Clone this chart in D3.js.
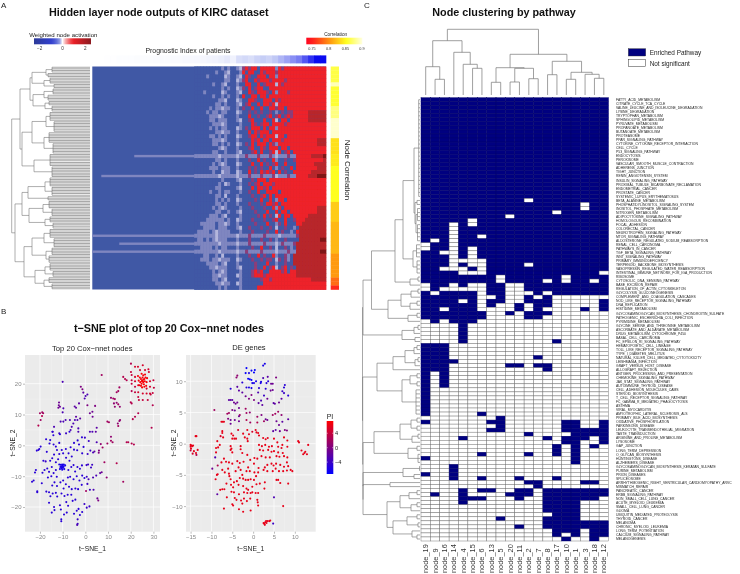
<!DOCTYPE html>
<html><head><meta charset="utf-8">
<style>html,body{margin:0;padding:0;background:#fff}svg{display:block;filter:blur(.25px)}text{font-family:"Liberation Sans",Arial,sans-serif}</style>
<script src="https://cdn.jsdelivr.net/npm/d3@7"></script></head><body><svg id="c" width="740" height="574"></svg>
<script>
// ---------- Panel A data ----------
const heatCodes = [
"bbbbbbbbblb lbblwmrmrrb rrrrrlrmrrr rrrrrrrrrrr",
"bbbbbbblbbl wbbblrbrrbb rmrrrmrrrrr rrrrrrrrrrr",
"bbbblbbbbbw lbblwbrmbbr rrbrrlrrrrr rrrrrrrrrrr",
"bbbbbbbbbbl lbbwlmrbbrm rrrmrrrrmrr rrrrrrrrrrr",
"bbbbbblbblw bbblbbrrbbr bmrrrwrmrrr rrrrrrrrrrr",
"bbbbbbbbblb lbbwlmbrbmr rbbrrrrrrrr rrrrrrrrrrr",
"bbblbbbbbwl bbblwbbrmbr rrmbrlrrrmr rrrrrrrrrrr",
"bbbbbblbblb lbblbrbbrrb rrbrrrrrrrr rrrrrrrrrrr",
"bbbbbbbbllw bbbwlbbrrmb brrrbrmrrrr rrrrrrrrrrr",
"bbbbbbbllbl bbblwbmrbbr brrmrwrrrrr rrrrrrrrrrr",
"bbbbblbllwl lbblbmbbrbb rbbrrmrrbrr rrrrrrrrrrr",
"bbbblbllbll bbbwlbbmbmb mbbmblbmbmm rrrrrdddddd",
"bbbbblllwlb bbblbbbrbbm bbmrbmrbmrm rrrrrdddddd",
"bbbbbllblll bbblwbbmrbb brbbrwbrrbr rrrrrdddddd",
"bbbbbblllwl bbbblbbbrmb mrrbrrrrmrr rrrrrrrrrrr",
"bbbbblblbll bbbwlbmbrrr brbrrlrrrrr rrrrrrrrrrr",
"bbbbbbbllwl lbblbbbrbrm rrrbrrrrrrr rrrrrrrrrrr",
"bbbbbllblbl bbbwlbbmrrb rmrrrwrrbrr rrrrrrrrrrr",
"bbbbbblllwl bbblbbbbrmr brrbrrrmrrr rrrrrrrrddd",
"bbbbbbllblb lbbwlbmbrbr rrbrmlrrrrr rrrrrrrrddd",
"bbbbbbbblwl bbblbbbmrbb rmbrrrbrrbr rrrrrrrrrrr",
"bbbbbbllbbl bbblwbbbmrb rbbmrwrbmrb rrrrrrrrrrr",
"llllllllwll lllwllmlllm lllmlwlllml lrrrrrddddk",
"bbbbbbbllbl bbblbbbmbbr bmbbrlbbmbb mrrrrrrrrrd",
"bbbbbblblwl bbbwlbbbrbb rbmbmrbbrbb brrrrrrdddd",
"bbbbblllbll lbblbbbmbmb mbbrblbmbbr brrrrrrrddd",
"bbbbbblbbwl lbbwlbbrbmb rmrmrbrbmbb rrrrrrddddd",
"llllllllwll lllwlllmlll mlllmwlllml lrrrrdddkkk",
"bbbbbbbbblb bbblwbbbmbr rrbrrrrrrrr rrrrrrrrrrr",
"bbbbbbbblbw lbbblbbmbmr brrrmrrrrrr rrrrrrrrrrr",
"bbbbbbbllbb bbblwbbbrbr rmrbrrrrrrr rrrrrrrrrrr",
"bbbbblbblbl lbbblbbmbbr bbrrrrbrrrr rrrrrrrrrrr",
"bbbbbbbllbw bbblbbbbmbb mrbrbrrrrrr rrrrrrrrrrr",
"bbbbbbblblb lbbwlbbbbmb rbbrblrrbrr rrrrrrrrrrr",
"bbbbbbbllbl bbblbbbmbbb mbrrmrbrrrr rrrrrrrrrrr",
"bbbbbblblwl bbbblbbbmbb bmbbrlrbrrr rrrrrrrrddd",
"bbbbbbbllbb lbblwbbbbmb bbrbbrbrrbr rrrrrrrrddd",
"bbbbblllblw bbbblbbbbbm brbmbwrbrrb rrrrrdddddd",
"bbbbllllllb lbbwlbbbmbb bmbbmrbbrbb mrrrddddddd",
"bblllllbllw lbblbbbbbmb bbrbblmbrbb brrdddddddd",
"bbbllllblll bbblwbbmbbb mbbmbwbbmbb lbddddddddd",
"bllllblwlll lbbblbbbmbb bbmbbrbmbbl brddddddddd",
"lllllllwlll lllwlllmlll lmllllwllll lmddddddddd",
"bllblblwlll bbblbbbmbbb mbbmblbbmbb bbdddddddkk",
"llllllllwll lllwlllmlll lmlllwlmlll mdddddddddd",
"bbllllblbll bbblbbbbmbb rbbmbwbbmbl bdddddddddd",
"llllllllwll lllwllmllll mllllwlllml lddddddddkk",
"bbbllbblbwb bbblbbbmbbr bmbbrlbbmlb dddddddddddd",
"bblllbllwll lbbwlbbbmbb mbmmbwmbmlb ddddddddddd",
"bbbbllllblw bbblbbbbbmb bbrbblbbmbb dddddddddddd",
"bbbbbllwlll bbblwbbbbmb brbmrwbmrbm bdddddddddd",
"bbbbbblblwl bbbblbbbmrm rbbrrrrmrbr rdddddddddd",
"bbbbbbllwll bbbwlbbbmrr rmrrrrrrrrr rdddddddddd",
"bbbbbbllblw bbbblbbbbbb mrrmrrrrrrr rrrrrrddddd",
"bbbbbbbllwl lbbwlbbbbbb brrrrrrrrrr rrrrrrrrrrr",
"bbbbbbbblbl bbbblbbbbbr rrrrrrrrrrr rrrrrrrrrrr"];
const heatLeftCols = 34;
const leftStreakRows = [22,27,42,44,46];
const leftStreakStart = [14,3,0,9,0];
const piBarValues = [0,0,.01,.01,.02,.02,.02,.03,.03,.03,.04,.04,.04,.05,.05,.06,.06,.07,.08,.1,.12,.15,.2,.12,.3,.35,.3,.4,.45,.4,.5,.55,.6,.65,.7,.8,.9,1,1];
const corrBySeg = [.86,.86,.86,.86,.89,.855,.855,.855,.855,.855,.875,.875,.875,.895,.895,.895,.895,.895,.835,.835,.835,.835,.84,.84,.84,.85,.85,.85,.85,.85,.85,.85,.85,.85,.825,.825,.825,.825,.825,.815,.815,.815,.815,.815,.815,.815,.815,.8,.8,.8,.8,.8,.8,.78,.78,.75];
const heatActivationDomain = [-2.5,-.9,-.3,0,.3,.9,2.5];
const heatActivationRange = ["#2c3a98","#3340d0","#7a88dd","#ffffff","#f5a0a0","#ee2027","#8a1a20"];
const corrDomain = [.75,.8,.85,.9];
const corrRange = ["#ff2a1c","#ff9a10","#ffff20","#ffffe0"];
const dendroA = [78.3,
 [70,
  [60,[58,[44,[38,4],[42,3]],[46,[40,4],[36,3]]],[57,[46,[37,4],[42,4]],[45,[41,3],[38,4]]]],
  [68,[58,[44,[40,6],[36,7]],[46,[41,7],[37,7]]],[56,[40,8],[38,7]]]],
 [75,
  [68,[62,[45,[40,6],[38,6]],[42,3]],[61,[47,[41,5],[38,5]],[45,[40,4],[37,4]]]],
  [66,[58,[46,[40,6],[36,6]],[44,[38,5],[41,5]]],[55,[45,[40,5],[37,4]],[46,[41,4],[38,4]]]]]];

// ---------- Panel B data: [tSNE_1, tSNE_2, PI] ----------
const leftPoints = [
[25,21,7],[25.5,20.5,7],[24.5,21.5,7],[26,21.5,7],[24.8,20,7],[25.8,19.8,7],[26.2,20.8,7],[24.2,20.5,7],[25.2,22,7],[24,22,7],[26.5,22,7],[25.5,22.7,7],[24.5,19.3,7],[26,19,7],[23.5,21,7],[27,20.5,7],[25,18.8,7],[26.8,19.3,7],[23.8,19.5,7],[27.2,21.8,7],[24.8,23.2,7],[26.3,23,7],[23.2,22.5,7],[25,20.8,7],[25.6,21.3,7],
[20.1,23.8,4],[21.9,25.5,5],[23.2,25.5,5],[25.3,26,5],[27.8,24.7,5],[28,23.8,5],[26.3,24.4,5],[24.1,24.4,5],[20.4,22.8,4],[21.9,22.2,5],[20.4,21.1,4],[21.9,20.8,5],[20.4,20,4],[21.9,19,4],[23.3,19.5,6],[30,21.1,4],[28.5,20.8,5],[27,18.4,5],[28.5,19,5],[30.2,18.7,4],[23.3,17.2,5],[25.3,16.8,5],[27,16.8,5],[28.5,16.8,5],[29.7,17,4],[28.8,16.5,4],[23.6,14.7,4],[25.3,14.7,4],[27.5,14.7,4],[20.4,17.6,3],[21.9,17.2,4],[23.3,15.7,4],[20.1,26.5,3],[7.2,22.8,2],
[-20,10.4,2],[-19,10.7,2],[-18.6,10.4,2],[-19.1,9.5,3],[-19.7,8.2,2],[-20.7,6.4,3],
[-10,20.6,-3],[-2,19,0],[-1.3,18.2,0],[-.9,17.1,-2],[.9,16.5,-3],[.1,16,-3],[-.3,15.2,-3],[.9,13,0],[4.3,12.8,0],[-11.6,13.9,-1],[-11.7,13,-1],[-11.2,12.5,-1],[-11.9,12.2,-1],[-9.7,12,-3],[-10,10.7,-3],[-4.7,12.6,-2],[-4.1,12.2,-2],[-2.8,13.6,-2],[2,10.4,-1],[3.1,10.9,-1],[3.2,9.3,-1],[-4.1,9.3,-2],[-2.3,8.7,-2],[-3.5,8.2,-3],[-4.6,8.2,-3],[-5.3,7.1,-3],[-10.9,7.7,-3],[-9.7,7.7,-3],[-8.7,8.2,-3],[-6.8,8.2,-3],[-13.8,6,-3],[-14.4,4.4,-3],[-11.5,3.9,-4],[-8.5,3.9,-4],[-6.5,5,-3],[-6,6,-3],[-3.1,5.5,-3],[-3.1,4.4,-3],[2,4.4,-3],[3.1,4.4,-3],[5,5.7,-2],[4.6,4.4,-2],
[15,18.8,2],[14.5,17.6,2],[13.8,17.2,2],[12.3,15.2,2],[11.3,15.4,1],[13,15,2],[12.6,13.6,1],[13.8,13.8,1],[14.5,13.3,2],[13,12.5,1],[15.2,12.5,1],[9.7,7.7,2],[10.4,7.5,2],[15,7.9,1],[15.3,8.2,1],[14.3,7.1,1],[14.5,6.3,2],[20,14,3],[20.4,13.6,3],[20.9,8.5,3],[21.9,9.3,3],[23.3,10.4,3],[16.7,22.2,3],[17.5,21.5,3],[18.2,21.1,3],[29.2,5.7,3],[29.7,13,3],
[6.8,.4,1],[7.6,-.7,2],[9.7,.6,2],[11.3,2.8,1],[11.3,1.5,2],[12,1,2],[18.2,1,3],[18.9,1,3],[20.4,.6,3],[21.4,.3,3],[8.4,-5.5,2],[13.8,-5.8,3],[16.7,-11.8,2],[.3,-14.8,2],[5.3,-17.2,-1],[5.7,-17.9,0],[6.5,-9,-2],[7.2,-8.7,-1],[9.4,-10.4,1],[4,-2,-2],[6,-1.7,0],[5.9,-2.4,0],
[-10.3,-7,-6],[-10,-6.6,-6],[-10.6,-6.8,-6],[-9.9,-7.3,-6],[-10.5,-7.4,-6],[-11,-7,-6],[-9.6,-6.9,-6],[-10.2,-6.2,-6],[-10.8,-6.3,-6],[-9.5,-6.2,-6],[-10.2,-7.9,-6],[-11.2,-7.7,-6],[-9.3,-7.7,-6],[-11.5,-6.2,-6],[-8.9,-6.5,-6],
[-23.5,-11.8,-5],[-22.8,-11.4,-5],[-22.2,-8.8,-5],[-21.8,-8,-5],[-21.2,-14.9,-5],[-21.2,-15.2,-5],[-18.9,-8.9,-5],[-19.2,-12.3,-5],[-21.4,-1.7,-5],[-20.7,-1.5,-5],[-19.7,-.4,-5],[-20.3,-1.2,-5],[-17.3,2,-5],[-17,-2.1,-5],[-15.8,.6,-5],[-15.5,1.7,-5],[-14.1,3.3,-5],[-14.5,4.4,-5],[-11.2,3.6,-5],[-7,4.4,-5],
[-18.5,-5,-5],[-17.5,-5.2,-4],[-16.8,-7.5,-5],[-18,-8,-5],[-16,-8.6,-5],[-15.5,-5,-5],[-14.6,-4.2,-5],[-13.8,-3,-5],[-13,-5.5,-5],[-14.8,-7,-5],[-15,-10,-5],[-16.5,-10.4,-5],[-14,-9,-5],[-13,-8,-5],[-12.6,-10.2,-5],[-12,-4.5,-5],[-11.5,-2.8,-5],[-12.5,-1.5,-5],[-14,.3,-5],[-13,-.4,-5],[-11.5,.8,-5],[-10.4,-1.5,-5],[-9.8,-2.6,-5],[-8.6,-1.2,-5],[-8.5,-4,-5],[-7.4,-2.6,-5],[-7,-5,-5],[-6,-3.6,-5],[-6.5,-.6,-5],[-5,-1.4,-5],[-5,.8,-5],[-3.6,-1.6,-5],[-3.4,1.6,-5],[-2.8,.3,-5],[-1.4,-2.6,-5],[-.8,-.5,-5],[-.2,2.5,-4],[-1.5,2.6,-5],[1,-2.8,-4],[1.5,1.4,-4],[2.2,-1.7,-4],[3.4,-2.3,-3],[5,1,-3],
[-7.5,-8,-5],[-6.2,-7,-5],[-5.2,-6.4,-5],[-4.5,-8.5,-5],[-3.5,-7,-5],[-2.4,-7.6,-5],[-1.5,-6.5,-5],[.5,-6.4,-4],[1.2,-6.2,-4],[2.5,-7.2,-4],[3,-6.3,-4],[-7.7,-10.4,-5],[-6.7,-10.2,-5],[-5.2,-11,-5],[-3.8,-10,-5],[-2.6,-11.4,-5],[-1.4,-9.8,-5],[-.4,-10.6,-5],[.6,-10.2,-4],[1.4,-11,-3],[3.4,-10.4,-3],[4.8,-9.8,-3],[-11,-12,-5],[-9.8,-11.4,-5],[-8.6,-12.6,-5],[-12.5,-13.2,-5],[-13.6,-12,-5],[-14.6,-13,-5],[-9.6,-14,-5],[-7.2,-13.4,-5],[-6,-14.2,-5],[-4.4,-14,-5],[-3.2,-14.2,-5],[-1.6,-12.8,-5],[.9,-12.5,-4],[2,-14.4,-4],[3.6,-14.4,-3],
[-17.2,-15,-5],[-16,-15.2,-5],[-15.4,-16.5,-5],[-14.4,-15.6,-5],[-13,-15.4,-5],[-12.4,-16.6,-5],[-10.5,-15.6,-5],[-9.2,-16.4,-5],[-7.8,-16,-5],[-6.2,-16,-5],[-5.6,-18,-5],[-4.4,-17.6,-5],[-8.4,-18.4,-5],[-7.6,-19.6,-5],[-16,-18.6,-5],[-13.8,-20,-5],[-11.2,-19.4,-5],[-10.8,-20.8,-5],[-14.8,-21.8,-5],[-13.6,-21,-5],[-9.4,-22.4,-5],[-8.2,-21.8,-5],[-3.8,-21.2,-5],[-3,-20.6,-5],[-1.4,-21.6,-5],[-.4,-19,-4],[.6,-20.2,-4],[1.8,-19.8,-4],[-5,-22.2,-5],[-2.4,-22.6,-5],[-10.6,-24,-5],[-10.6,-24.6,-5],[-3.4,-24,-4],[-3.4,-25.4,-4],[-3.6,-25.8,-3]];
const rightPoints = [
[-1.6,12.1,-7],[-.4,11.7,-7],[.4,11.8,-7],[.2,11.4,-7],[-1.8,11.3,-7],[-1,11.3,-6],[2.4,12.5,-6],[2.8,12.8,-6],[-1.2,10.4,-7],[-.8,10.3,-7],[-.4,10.2,-7],[.7,10,-6],[-.2,9.7,-6],[.2,9.7,-6],[1.9,9.9,-6],[1.8,9.7,-6],[3.2,9.7,-5],[3.6,10,-5],[2.4,10.5,-3],[3.5,10.7,-2],[5.5,10.6,0],[4.3,9.6,-1],[4.7,9.6,-1],[-3.8,10.9,1],[-4,10.6,1],[-2.6,9.8,-5],[-5.4,8.8,-5],[-3.8,9.1,-2],[-1.6,9,-5],[-1,9,-6],[-.4,8.9,-6],[1.4,8.9,-5],[3,8.8,-5],[4.2,8.5,-1],[4.7,8.6,-1],[7.6,9.4,-5],[7.4,9,-5],[7,8.4,-4],[7.4,8.1,-4],[8.4,7.7,-5],[2.6,7.7,-4],[1.2,8.2,-3],[-3.4,8.5,-2],[-2.6,8.2,-2],
[-5.8,7,-2],[-5.4,7,-2],[-5,7,-2],[-4.6,6.6,-1],[-4.2,6.4,-1],[-3.4,5.7,-1],[-3.8,6.6,-1],[-1.8,7.6,-1],[-1,7.2,0],[-.4,7.8,0],[.2,7,0],[1.3,6.5,-2],[1.9,6.9,-3],[2.2,6.2,-2],[3.4,7.2,-1],[4.9,6.5,-2],[5.2,6.4,-2],[6.2,6.6,-1],[6.8,7.2,-2],[-9.3,5.4,2],[-6.2,4.8,2],[-5.8,4.9,2],[-5,5.4,0],[-4.4,5.3,-1],[-3.2,4.6,2],[-1.8,5.6,2],[-1.6,4.9,2],[-.8,5,1],[1,4.3,2],[2,4.6,0],[4.7,4.6,2],[5.3,4.8,2],[6,5.1,2],[6.8,4.6,1],
[-6,4,0],[-5.4,3.8,-1],[-5.4,3.2,-1],[-4.4,3.8,-1],[-3.4,4.4,-1],[-3.4,3.6,-1],[-1.6,3.8,3],[-.7,3.4,2],[1,3.4,3],[2.6,3.6,2],[3,3.9,-1],[3.4,3.8,-1],[5.6,3.6,-1],[6.2,3,-1],[7,3.5,-2],[8.4,3.9,-2],[-7.6,3.5,6],[-7.3,3.5,6],[-7,3.5,6],
[-7.4,2,6],[-7.4,1.7,6],[-7.8,1.2,5],[-5.2,1.6,6],[-4.8,1.3,6],[-3.6,2.2,5],[-2.4,1.6,6],[-1.4,2.2,6],[-1,1.5,6],[-.2,1.9,5],[.6,2.2,6],[.8,1.8,6],[1.2,1.7,6],[1.4,1.3,6],[4.8,2,-2],[5.4,2.2,-2],[6.4,2,-1],[7.6,2.2,0],[8.1,2.1,0],
[-8.6,.4,6],[-8,-.2,6],[-7.2,1,6],[-5,.8,6],[-4.5,.8,6],[-4.1,.8,6],[-2,1,6],[-1.4,.8,6],[-1.3,.4,6],[2.4,.9,6],[3,.7,6],[3.5,.9,6],[5,.8,6],[5.8,.2,6],[7,-.2,6],[7.4,1,6],[8.2,.5,6],[-8.9,-.7,6],[-8.4,-.6,6],[-5.4,-.4,6],[-5.2,-.8,6],[-3,-.4,6],[1.4,-.2,6],[2.1,-.4,6],[2.9,-.2,6],[3.8,-.5,6],[4.5,-.4,6],[6,-.5,6],[6.8,-.7,6],[8.2,-.5,6],
[-8.9,-1.4,6],[-9.1,-2.2,-3],[-5.4,-1,6],[-5,-1.4,6],[-3,-.9,6],[-2.6,-1.5,6],[1.6,-1,6],[2.4,-1.1,6],[3.6,-1,6],[4.4,-1.3,6],[5,-1.2,6],[6,-1.4,6],[7.1,-1.5,6],[-1.4,-1.8,6],[.3,-2.3,6],[2,-2,6],[3,-2.2,6],[4,-2.2,6],[5.6,-2,6],[6.3,-2.1,6],[7.4,-2,6],[8.2,-2.2,6],[8.1,-3,6],
[-9.8,-4,-1],[-8.5,-3.5,3],[-7.6,-3,6],[-7,-2.4,6],[-6.5,-2.9,6],[-5.8,-3,6],[-5,-3.2,6],[-3.8,-2.8,6],[-3.2,-3.1,6],[-2.3,-2.9,6],[-.7,-2.6,6],[.2,-3.2,6],[1,-2.4,6],[1.3,-3.9,6],[2.8,-3.8,6],[3.4,-3.4,6],[4.4,-3.2,6],[4.9,-3.5,6],[5.5,-3.2,6],[6.5,-3.4,6],[7.4,-3.7,6],[8.4,-3.6,6],
[-9,-5.7,6],[-8.7,-5,6],[-8.5,-4.9,6],[-7.4,-4.2,6],[-6.8,-4.6,6],[-6,-4,6],[-5.8,-4.8,6],[-5.7,-5.2,6],[-5.4,-5.7,6],[-4.2,-4.4,6],[-3.5,-3.8,6],[-3,-4.2,6],[-2.6,-5,6],[-1.2,-3.8,6],[-1.6,-4.4,6],[-.8,-4.4,6],[.3,-4.6,6],[1.2,-4.6,6],[2.5,-4.2,6],[3.4,-4.4,6],[4.7,-4.4,6],[5.4,-4,6],[6.2,-4.4,6],[7.2,-4.4,6],[8.1,-4.3,6],[9,-4.2,6],[9.4,-4.4,6],
[-4.6,-6.2,6],[-3.9,-6,6],[-3.2,-5.5,6],[-2.4,-5.6,6],[-1.8,-5.8,6],[-1.2,-5.8,6],[-.6,-5.7,6],[.2,-5.8,6],[.7,-5.2,6],[2.8,-6.2,6],[5.6,-5.8,6],[6,-5.8,6],[6.5,-6.3,6],[8.4,-6.4,6],
[-6.4,-6.4,6],[-5.3,-6.6,6],[-4.8,-7,6],[-3.5,-6.6,6],[-2.4,-6.8,6],[-1.6,-7.2,6],[-1.2,-7.4,6],[-.2,-6.9,6],[.8,-6.5,6],[1.6,-6.4,6],[2.7,-7.2,6],[-7.9,-7.4,6],[-7.4,-7.3,6],[-6.9,-7.3,6],[-5.2,-7.7,6],[-4.6,-7.8,6],[-3.4,-8.1,6],[-2.2,-7.8,6],[-1.4,-7.9,6],[-.6,-7.9,6],[-.2,-7.8,6],[.6,-7.9,6],[1.2,-7.9,6],[-8.6,-8.1,-2],[-6.3,-8.6,6],[-4.4,-8.7,6],[-4,-9,6],[-2.9,-9.1,6],[-2.2,-8.8,6],[-1.5,-9.2,6],[-.7,-8.8,6],[1,-9,6],[1.1,-9.4,6],[5,-8.6,-3],[-5,-9.7,6],[-4.8,-9.9,6],[-2.6,-9.6,6],[7.2,-10,6],[1.2,-9.9,6],[-7,-10.4,6],[-3.4,-10.5,6],[-2.4,-10.9,6],[-.6,-10.7,6],
[2.6,-12.8,6],[2.8,-13,6],[2.9,-12.6,6],[3.1,-12.4,6],[3.5,-12.4,6],[3.9,-12.4,6],[4.1,-12.3,6],[2.5,-12.7,6],[3.2,-12.7,6],[4.8,-12.8,-4],
[-15,-.2,6],[-15,-.5,6],[-14.9,-.8,6],[-14.8,-.3,6],[-14.6,-.4,6],[-14.4,-.3,6],[-15,-1.1,4],[-14.5,-1.6,5],[-14.2,-1.2,6],[-13.7,-1.5,6],[-13.6,-1.8,3],[-13.3,-1,6],[-13.8,1.2,6],[-13.6,1.2,6],
[10.8,.4,6],[11,.2,6],[11.6,-1.1,6],[12,-1.7,6],[12.5,-1.3,6],[12.9,-1.7,6],[13.2,-.2,6],[12.3,-1.5,6]];
const xTicksL=[-20,-10,0,10,20,30], yTicksL=[-20,-10,0,10,20];
const xTicksR=[-15,-10,-5,0,5,10], yTicksR=[-10,-5,0,5,10];
const legendPITicks=[4,0,-4];

// ---------- Panel C data ----------
const pathways = ["FATTY_ACID_METABOLISM","CITRATE_CYCLE_TCA_CYCLE","VALINE_LEUCINE_AND_ISOLEUCINE_DEGRADATION","LYSINE_DEGRADATION","TRYPTOPHAN_METABOLISM","SPHINGOLIPID_METABOLISM","PYRUVATE_METABOLISM","PROPANOATE_METABOLISM","BUTANOATE_METABOLISM","PROTEASOME","PPAR_SIGNALING_PATHWAY","CYTOKINE_CYTOKINE_RECEPTOR_INTERACTION","CELL_CYCLE","P53_SIGNALING_PATHWAY","ENDOCYTOSIS","PEROXISOME","VASCULAR_SMOOTH_MUSCLE_CONTRACTION","ADHERENS_JUNCTION","TIGHT_JUNCTION","RENIN_ANGIOTENSIN_SYSTEM","INSULIN_SIGNALING_PATHWAY","PROXIMAL_TUBULE_BICARBONATE_RECLAMATION","ENDOMETRIAL_CANCER","PROSTATE_CANCER","SYSTEMIC_LUPUS_ERYTHEMATOSUS","BETA_ALANINE_METABOLISM","PHOSPHATIDYLINOSITOL_SIGNALING_SYSTEM","INOSITOL_PHOSPHATE_METABOLISM","NITROGEN_METABOLISM","ADIPOCYTOKINE_SIGNALING_PATHWAY","HOMOLOGOUS_RECOMBINATION","FOCAL_ADHESION","COLORECTAL_CANCER","NEUROTROPHIN_SIGNALING_PATHWAY","MTOR_SIGNALING_PATHWAY","ALDOSTERONE_REGULATED_SODIUM_REABSORPTION","RENAL_CELL_CARCINOMA","PATHWAYS_IN_CANCER","TGF_BETA_SIGNALING_PATHWAY","WNT_SIGNALING_PATHWAY","PRIMARY_IMMUNODEFICIENCY","TERPENOID_BACKBONE_BIOSYNTHESIS","VASOPRESSIN_REGULATED_WATER_REABSORPTION","INTESTINAL_IMMUNE_NETWORK_FOR_IGA_PRODUCTION","RIBOSOME","CYTOSOLIC_DNA_SENSING_PATHWAY","BASE_EXCISION_REPAIR","REGULATION_OF_ACTIN_CYTOSKELETON","GLYCOLYSIS_GLUCONEOGENESIS","COMPLEMENT_AND_COAGULATION_CASCADES","NOD_LIKE_RECEPTOR_SIGNALING_PATHWAY","DNA_REPLICATION","HISTIDINE_METABOLISM","GLYCOSAMINOGLYCAN_BIOSYNTHESIS_CHONDROITIN_SULFATE","PATHOGENIC_ESCHERICHIA_COLI_INFECTION","PYRIMIDINE_METABOLISM","GLYCINE_SERINE_AND_THREONINE_METABOLISM","ASCORBATE_AND_ALDARATE_METABOLISM","DRUG_METABOLISM_CYTOCHROME_P450","BASAL_CELL_CARCINOMA","FC_EPSILON_RI_SIGNALING_PATHWAY","HEMATOPOIETIC_CELL_LINEAGE","TOLL_LIKE_RECEPTOR_SIGNALING_PATHWAY","TYPE_I_DIABETES_MELLITUS","NATURAL_KILLER_CELL_MEDIATED_CYTOTOXICITY","LEISHMANIA_INFECTION","GRAFT_VERSUS_HOST_DISEASE","ALLOGRAFT_REJECTION","ANTIGEN_PROCESSING_AND_PRESENTATION","CHEMOKINE_SIGNALING_PATHWAY","JAK_STAT_SIGNALING_PATHWAY","AUTOIMMUNE_THYROID_DISEASE","CELL_ADHESION_MOLECULES_CAMS","STEROID_BIOSYNTHESIS","T_CELL_RECEPTOR_SIGNALING_PATHWAY","FC_GAMMA_R_MEDIATED_PHAGOCYTOSIS","ASTHMA","VIRAL_MYOCARDITIS","AMYOTROPHIC_LATERAL_SCLEROSIS_ALS","PRIMARY_BILE_ACID_BIOSYNTHESIS","OXIDATIVE_PHOSPHORYLATION","PARKINSONS_DISEASE","LEUKOCYTE_TRANSENDOTHELIAL_MIGRATION","TASTE_TRANSDUCTION","ARGININE_AND_PROLINE_METABOLISM","LYSOSOME","GAP_JUNCTION","LONG_TERM_DEPRESSION","O_GLYCAN_BIOSYNTHESIS","HUNTINGTONS_DISEASE","ALZHEIMERS_DISEASE","GLYCOSAMINOGLYCAN_BIOSYNTHESIS_KERATAN_SULFATE","PURINE_METABOLISM","PRION_DISEASES","SPLICEOSOME","ARRHYTHMOGENIC_RIGHT_VENTRICULAR_CARDIOMYOPATHY_ARVC","MISMATCH_REPAIR","PANCREATIC_CANCER","ERBB_SIGNALING_PATHWAY","NON_SMALL_CELL_LUNG_CANCER","ACUTE_MYELOID_LEUKEMIA","SMALL_CELL_LUNG_CANCER","GLIOMA","UBIQUITIN_MEDIATED_PROTEOLYSIS","THYROID_CANCER","MELANOMA","CHRONIC_MYELOID_LEUKEMIA","LONG_TERM_POTENTIATION","CALCIUM_SIGNALING_PATHWAY","MELANOGENESIS"];
const nodes = ["node_19","node_9","node_16","node_14","node_4","node_15","node_6","node_13","node_5","node_20","node_11","node_2","node_7","node_8","node_17","node_10","node_1","node_3","node_18","node_12"];
const allOn = "11111 11111 11111 11111";
const enriched = [allOn,allOn,allOn,allOn,allOn,allOn,allOn,allOn,allOn,allOn,allOn,allOn,allOn,allOn,allOn,allOn,allOn,allOn,allOn,allOn,allOn,allOn,allOn,allOn,allOn,
"11111 11111 10111 11111","11111 11111 11111 11011","11111 11111 11111 11011","11111 11111 11110 11111","11111 11110 11111 11111",
"11111 01111 11111 11111","11101 01111 11111 11111","11101 11111 11111 11111","11101 11111 11111 11111","11101 10111 11111 11111",
"10101 11111 11111 11111","01101 11111 11111 11111","01101 01111 11111 11111","11001 01111 11111 11111","11101 01111 11111 11111",
"11100 00111 11111 11111","11101 00111 10111 11111","11000 10111 11111 11111","11110 00111 11111 11110","11111 11101 11111 01111",
"11111 11101 11101 01101","01101 00110 01111 11111","01000 00110 01111 11111","10111 10110 00101 11111","11111 10010 01010 00000",
"11110 10110 01110 00001","11111 10100 10110 00001","11011 10000 10100 00101","11111 11001 01110 00000","11111 11000 01100 00000",
"01011 10000 00000 00000","00001 00000 00000 00000","00001 00000 00000 00000","00001 00000 00000 00000","00001 00000 00000 00000",
"00001 00000 00001 00000","11100 00000 00000 00000","11100 00000 00000 00000","11100 00000 00000 00000","11100 00000 00100 00000",
"11110 00000 00000 00000","11100 00001 10110 00000","11100 00000 00010 00000","10100 00000 00000 00000","10100 00000 00000 00000",
"10100 00000 00000 00000","10100 00000 00000 00000","10000 00000 00000 00000","10000 00000 00000 00000","10000 00000 00000 00000",
"10000 00000 00000 00000","10000 00000 00000 00000","10000 00000 00000 00000","10000 01000 00000 00000","00000 00010 00000 00000",
"10000 00110 00000 11001","00000 00010 00000 11001","00000 00110 00000 11111","00000 00000 01000 01111","00001 00000 00010 11101",
"00000 00000 00000 11001","00000 00000 00001 01010","00000 00000 00001 01000","00000 01000 01001 01000","10000 00000 00000 01000",
"00000 00000 00000 01000","00010 00000 00000 00000","00010 00000 00000 00000","10010 00000 00000 00000","00010 01000 10001 00000",
"00000 00000 01100 00110","00000 00000 00100 00000","00001 01100 11011 11111","01001 00001 11011 11111","00001 11000 10011 11110",
"00001 00000 00011 11000","00000 00000 00011 11000","00000 00000 00011 11000","00000 00000 00001 11000","00000 00010 00011 11000",
"00000 00000 00011 11111","00000 00000 10011 11111","00000 00000 00001 11011","00000 00000 00001 01011","00000 00000 00000 10010"];
const L=[0,1];
const dendroCols = [65.7,
 [54.3,[28.3,L,[15.7,L,L]],[42.7,L,[30.7,L,[26.7,L,L]]]],
 [40.7,
  [27.3,[12.7,L,L],[26.7,[13,L,L],[16.3,L,L]]],
  [33.7,[20.3,L,L],[22.7,[15.7,L,L],[20.7,L,[16.7,L,L]]]]]];
const dendroRows = [57.5,
 [57,
  [48.5,
   [25,
    [17,[6,[1.3,25],[5,[3,2],[4,[2.5,4],[2.5,5]]]],[7,[3.5,4],[3,4]]],
    [10,[2,2],L]],
   [32,[19,[9,[2,2],L],[10,[3,2],L]],[12,[3,2],L]]],
  [18,[6,[2,2],L],[5,L,L]]],
 [57.3,
  [43,[27,[15,[6,[3,2],L],[5,[2,2],L]],L],[18,[10,[3,2],[3,2]],[4,7]]],
  [57,
   [46,[20,[9,[3,2],[3,2]],[8,[2,2],L]],[12,[3,2],[2,3]]],
   [57,[17,[.5,2],[6,L,L]],
    [57,[30,L,L],[33,[20,[11,[3,2],L],[9,[3,2],L]],[27,[13,[3,2],[2,2]],[8,L,[3,2]]]]]]]]];

// ---------- Drawing ----------
const svg = d3.select("#c");
const defs = svg.append("defs");
defs.append("filter").attr("id","soft").attr("x","0").attr("y","0").attr("width","100%").attr("height","100%")
  .append("feGaussianBlur").attr("stdDeviation",.75);
function txt(g,x,y,s,o={}){const t=g.append("text").attr("x",x).attr("y",y).text(s)
  .attr("font-size",o.size||7).attr("fill",o.fill||"#222").attr("text-anchor",o.anchor||"middle")
  .attr("font-weight",o.weight||"normal");
  if(o.rot!=null)t.attr("transform",`rotate(${o.rot} ${x} ${y})`);
  return t;}
function hGradient(id,scale,dom){const lg=defs.append("linearGradient").attr("id",id);
  dom.forEach((d,i)=>lg.append("stop").attr("offset",i/(dom.length-1)).attr("stop-color",scale(d)));}

// dendrogram layout: [h,child,child] merge, [h,n] run of n leaves
function dendro(g,tree,xScale,leafPos,color,width,horizontal,leafColor,leafWidth){
  let k=0; const segs=[],leaf=[];
  function seg(a,b,c,d,arr=segs){arr.push(horizontal?[a,b,c,d]:[b,a,d,c]);}
  function lay(n){
    if(n.length===2){const [h,c]=n; const ps=d3.range(c).map(()=>leafPos(k++));
      if(c===1)return {h:0,p:ps[0]};
      seg(xScale(h),ps[0],xScale(h),ps[c-1]);
      ps.forEach(p=>seg(xScale(h),p,xScale(0),p,leaf));
      return {h,p:d3.mean(ps)};}
    const [h,a,b]=n,A=lay(a),B=lay(b);
    seg(xScale(h),A.p,xScale(h),B.p);
    seg(xScale(h),A.p,xScale(A.h),A.p,A.h===0?leaf:segs);
    seg(xScale(h),B.p,xScale(B.h),B.p,B.h===0?leaf:segs);
    return {h,p:(A.p+B.p)/2};}
  lay(tree);
  const draw=(arr,c,w)=>g.append("g").attr("stroke",c).attr("stroke-width",w).selectAll("line").data(arr).join("line")
    .attr("x1",d=>d[0]).attr("y1",d=>d[1]).attr("x2",d=>d[2]).attr("y2",d=>d[3]);
  draw(leaf,leafColor||color,leafWidth||width); draw(segs,color,width);
}

// ---- Panel A ----
const A=svg.append("g");
txt(A,1,8,"A",{anchor:"start",size:8});
txt(A,158.8,16,"Hidden layer node outputs of KIRC dataset",{size:10.8,weight:"bold",fill:"#111"});
const heatX=d3.scaleBand().domain(d3.range(heatLeftCols+44)).range([92.3,326]);
const heatY=d3.scaleBand().domain(d3.range(heatCodes.length)).range([66.5,289.5]);
const heatColors={b:"#4158a5",l:"#7f86c0",w:"#b4b6dc",m:"#8d3c78",r:"#ee2229",d:"#b8262c",k:"#7f1518"};
const heatG=A.append("g").attr("filter","url(#soft)");
heatG.append("rect").attr("x",92.3).attr("y",66.5).attr("width",233.7).attr("height",223).attr("fill",heatColors.b);
const heatCells=heatCodes.flatMap((s,r)=>[...s.replace(/ /g,"").padEnd(44,"d").slice(0,44)].map((v,j)=>({r,j:j+heatLeftCols,v})));
heatG.append("g").selectAll("rect").data(heatCells).join("rect")
  .attr("x",d=>heatX(d.j)).attr("y",d=>heatY(d.r)).attr("width",heatX.bandwidth()+.4).attr("height",heatY.bandwidth()+.4)
  .attr("fill",d=>heatColors[d.v]);
heatG.append("g").selectAll("rect").data(leftStreakRows).join("rect")
  .attr("x",(d,i)=>heatX(leftStreakStart[i])).attr("y",d=>heatY(d)+.8).attr("width",(d,i)=>heatX(heatLeftCols)-heatX(leftStreakStart[i])+.4).attr("height",2.4)
  .attr("fill",heatColors.l);
// prognostic index bar
const piX=d3.scaleBand().domain(d3.range(piBarValues.length)).range([92.3,326]);
const piC=d3.scaleLinear().domain([0,.5,1]).range(["#ffffff","#c0c8f5","#0a0af0"]);
A.append("g").selectAll("rect").data(piBarValues).join("rect").attr("x",(d,i)=>piX(i)).attr("y",55.4).attr("width",piX.bandwidth()+.3).attr("height",8).attr("fill",d=>piC(d));
txt(A,188,52.5,"Prognostic Index of patients",{size:6.9});
// correlation sidebar
const corrC=d3.scaleLinear().domain(corrDomain).range(corrRange);
A.append("g").selectAll("rect").data(corrBySeg).join("rect").attr("x",330.7).attr("y",(d,i)=>heatY(i)).attr("width",8.3).attr("height",heatY.bandwidth()+.3).attr("fill",d=>corrC(d));
txt(A,345,170,"Node Correlation",{size:8,rot:90});
// activation legend
const actC=d3.scaleLinear().domain(heatActivationDomain).range(heatActivationRange);
const actX=d3.scaleLinear().domain([-2.5,2.5]).range([34,91]);
hGradient("gAct",actC,d3.range(-2.5,2.51,.25));
A.append("rect").attr("x",34).attr("y",38.3).attr("width",57).attr("height",6).attr("fill","url(#gAct)");
[-2,0,2].forEach(v=>txt(A,actX(v),50,v===-2?"−2":String(v),{size:4.6,fill:"#333"}));
txt(A,63.3,36.5,"Weighted node activation",{size:6.1});
// correlation legend
const corrLX=d3.scaleLinear().domain([.75,.9]).range([312,362]);
hGradient("gCorr",corrC,[.733,.75,.775,.8,.825,.85,.875,.9]);
A.append("rect").attr("x",306.3).attr("y",37.7).attr("width",56).attr("height",6.6).attr("fill","url(#gCorr)");
[.75,.8,.85,.9].forEach(v=>txt(A,corrLX(v),50,String(v),{size:3.8,fill:"#333"}));
txt(A,335.7,35.7,"Correlation",{size:4.7});
// left dendrogram
const dX=d3.scaleLinear().domain([0,78.3]).range([90,11.7]);
const dY=i=>66.5+(i+.5)*223/143;
dendro(A,dendroA,dX,dY,"#6d6d6d",.55,true,"#a9a9a9",1.05);

// ---- Panel B ----
const B=svg.append("g");
txt(B,1,314,"B",{anchor:"start",size:8});
txt(B,169,332,"t−SNE plot of top 20 Cox−nnet nodes",{size:10.8,weight:"bold",fill:"#111"});
const piColor=d3.scaleLinear().domain([-7.3,7.4]).range(["#0000ff","#ff0000"]);
function scatter(cfg){
  const g=B.append("g");
  const x=d3.scaleLinear().domain(cfg.xd).range([cfg.x0,cfg.x1]);
  const y=d3.scaleLinear().domain(cfg.yd).range([531.7,355]);
  g.append("rect").attr("x",cfg.x0).attr("y",355).attr("width",cfg.x1-cfg.x0).attr("height",176.7).attr("fill","#ebebeb");
  const mid=t=>t.slice(1).map((v,i)=>(v+t[i])/2);
  const hl=(vals,w,c)=>g.append("g").attr("stroke",c).attr("stroke-width",w).selectAll("line").data(vals).join("line").attr("x1",cfg.x0).attr("x2",cfg.x1).attr("y1",y).attr("y2",y);
  const vl=(vals,w,c)=>g.append("g").attr("stroke",c).attr("stroke-width",w).selectAll("line").data(vals).join("line").attr("y1",355).attr("y2",531.7).attr("x1",x).attr("x2",x);
  hl(mid(cfg.yt),.35,"#f6f6f6");vl(mid(cfg.xt),.35,"#f6f6f6");hl(cfg.yt,.7,"#fff");vl(cfg.xt,.7,"#fff");
  const ax=g.append("g").attr("transform","translate(0,531.7)").call(d3.axisBottom(x).tickValues(cfg.xt).tickSize(2).tickPadding(1.5));
  const ay=g.append("g").attr("transform",`translate(${cfg.x0},0)`).call(d3.axisLeft(y).tickValues(cfg.yt).tickSize(2).tickPadding(1.5));
  [ax,ay].forEach(a=>{a.select(".domain").remove();a.selectAll("line").attr("stroke","#777").attr("stroke-width",.5);
    a.selectAll("text").attr("font-size",6).attr("fill","#888").style("font-family",'"Liberation Sans",Arial');});
  g.append("g").selectAll("circle").data(cfg.pts).join("circle").attr("cx",d=>x(d[0])).attr("cy",d=>y(d[1])).attr("r",1.05).attr("fill",d=>piColor(d[2]));
  txt(g,cfg.tx,cfg.ty,cfg.title,{size:7.6,fill:"#222"});
  txt(g,(cfg.x0+cfg.x1)/2,cfg.lx,"t−SNE_1",{size:6.7,fill:"#222"});
  txt(g,cfg.yx,443,"t−SNE_2",{size:6.7,fill:"#222",rot:-90});
}
scatter({pts:leftPoints,x0:25,x1:160,xd:[-26.6,32.9],yd:[-28,29.3],xt:xTicksL,yt:yTicksL,tx:92.3,ty:351,title:"Top 20 Cox−nnet nodes",lx:551,yx:14.5});
scatter({pts:rightPoints,x0:186,x1:315.7,xd:[-16.1,15],yd:[-14.1,14.2],xt:xTicksR,yt:yTicksR,tx:249,ty:350,title:"DE genes",lx:551,yx:175.5});
// PI legend
const piLegY=d3.scaleLinear().domain([-7.3,7.4]).range([474,421]);
const lgPI=defs.append("linearGradient").attr("id","gPI").attr("x1",0).attr("x2",0).attr("y1",1).attr("y2",0);
[-7.3,7.4].forEach((d,i)=>lgPI.append("stop").attr("offset",i).attr("stop-color",piColor(d)));
B.append("rect").attr("x",326.7).attr("y",421).attr("width",6.6).attr("height",53).attr("fill","url(#gPI)");
legendPITicks.forEach(v=>{
  B.append("line").attr("x1",326.7).attr("x2",328).attr("y1",piLegY(v)).attr("y2",piLegY(v)).attr("stroke","#fff").attr("stroke-width",.4);
  B.append("line").attr("x1",332).attr("x2",333.3).attr("y1",piLegY(v)).attr("y2",piLegY(v)).attr("stroke","#fff").attr("stroke-width",.4);
  txt(B,335,piLegY(v)+2,v<0?"−"+(-v):String(v),{size:5.6,anchor:"start"});});
txt(B,326.7,418.5,"PI",{size:7,anchor:"start"});

// ---- Panel C ----
const C=svg.append("g");
txt(C,364,8,"C",{anchor:"start",size:8});
txt(C,504,16,"Node clustering by pathway",{size:10.8,weight:"bold",fill:"#111"});
const cx=d3.scaleBand().domain(d3.range(nodes.length)).range([421,608.5]);
const cy=d3.scaleBand().domain(d3.range(pathways.length)).range([97.7,541]);
const cells=enriched.flatMap((s,r)=>[...s.replace(/ /g,"")].map((v,j)=>({r,j,v:+v})));
C.append("g").selectAll("rect").data(cells).join("rect")
  .attr("x",d=>cx(d.j)).attr("y",d=>cy(d.r)).attr("width",cx.bandwidth()).attr("height",cy.bandwidth())
  .attr("fill",d=>d.v?"#000080":"#fff").attr("stroke",d=>d.v?"#00006a":"#6e6e6e").attr("stroke-width",.45);
C.append("g").selectAll("text").data(pathways).join("text").attr("x",616).attr("y",(d,i)=>cy(i)+cy.bandwidth()/2+1.2).text(d=>d)
  .attr("font-size",3.4).attr("fill","#222");
C.append("g").selectAll("text").data(nodes).join("text")
  .attr("transform",(d,i)=>`translate(${cx(i)+cx.bandwidth()/2+2.5},573) rotate(-90)`).text(d=>d)
  .attr("font-size",7.4).attr("fill","#333");
const colH=d3.scaleLinear().domain([0,65.7]).range([95,29.3]);
dendro(C,dendroCols,colH,i=>cx(i)+cx.bandwidth()/2,"#777",.7,false);
const rowH=d3.scaleLinear().domain([0,60]).range([420,360]);
dendro(C,dendroRows,rowH,i=>cy(i)+cy.bandwidth()/2,"#777",.65,true);
// legend
C.append("rect").attr("x",628.3).attr("y",48.7).attr("width",17.4).attr("height",7.3).attr("fill","#000080").attr("stroke","#333").attr("stroke-width",.4);
C.append("rect").attr("x",628.3).attr("y",59.3).attr("width",17.4).attr("height",7.3).attr("fill","#fff").attr("stroke","#333").attr("stroke-width",.5);
txt(C,649.7,55,"Enriched Pathway",{size:6.4,anchor:"start"});
txt(C,649.7,65.6,"Not significant",{size:6.4,anchor:"start"});
</script></body></html>
